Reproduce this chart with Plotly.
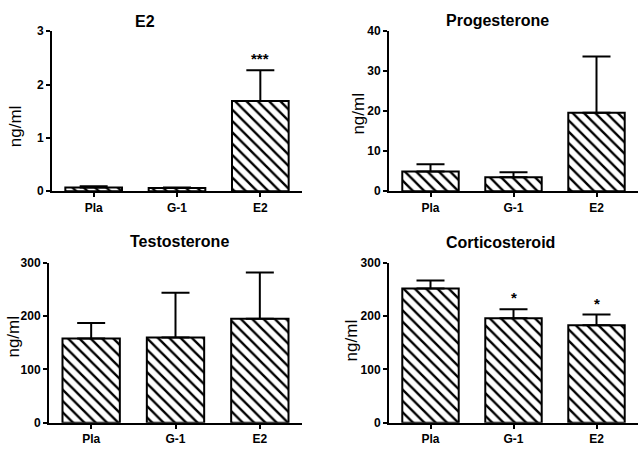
import plotly.graph_objects as go

categories = ["Pla", "G-1", "E2"]

e2_mean = [0.07, 0.06, 1.69]
e2_sem = [0.02, 0.01, 0.58]
e2_stars = ["", "", "***"]

prog_mean = [4.9, 3.5, 19.6]
prog_sem = [1.8, 1.2, 14.1]
prog_stars = ["", "", ""]

testo_mean = [158, 160, 195]
testo_sem = [29, 84, 87]
testo_stars = ["", "", ""]

cort_mean = [252, 196, 183]
cort_sem = [15, 17, 20]
cort_stars = ["", "*", "*"]

titles = ["E2", "Progesterone", "Testosterone", "Corticosteroid"]
y_ranges = [[0, 3], [0, 40], [0, 300], [0, 300]]
y_dticks = [1, 10, 100, 100]
y_label = "ng/ml"

W, H = 644, 455
FONT = "Liberation Sans, Arial, sans-serif"

# panel layout in pixels: (x_left, x_right, y_top, y_bottom)
panels_px = [
    (52, 302, 25, 190),
    (389, 638, 25, 190),
    (49, 302, 264, 429),
    (389, 638, 264, 429),
]
title_pos = [(145, 15), (497, 14), (180, 242), (500, 243)]
ylab_pos = [(15, 123), (359, 110), (14, 340), (351, 344)]

series = [
    (e2_mean, e2_sem, e2_stars),
    (prog_mean, prog_sem, prog_stars),
    (testo_mean, testo_sem, testo_stars),
    (cort_mean, cort_sem, cort_stars),
]

fig = go.Figure()
annotations = []
layout = {}

for i, ((mean, sem, stars), (xl, xr, yt, yb)) in enumerate(zip(series, panels_px)):
    n = "" if i == 0 else str(i + 1)
    xa, ya = "x" + n, "y" + n
    fig.add_trace(go.Bar(
        x=categories, y=mean, xaxis=xa, yaxis=ya, width=0.68,
        marker=dict(
            color="white",
            line=dict(color="black", width=2),
            pattern=dict(shape="\\", fgcolor="black", bgcolor="white",
                         size=8, solidity=0.3, fillmode="replace"),
        ),
        error_y=dict(type="data", array=sem, arrayminus=[0] * len(sem),
                     symmetric=False, color="black", thickness=2, width=14),
        showlegend=False,
        hoverinfo="skip",
    ))
    layout["xaxis" + n] = dict(
        domain=[xl / W, xr / W], anchor=ya, range=[-0.5, 2.5],
        showline=True, linecolor="black", linewidth=2,
        ticks="outside", ticklen=4, tickwidth=2, tickcolor="black",
        showgrid=False, zeroline=False,
        tickfont=dict(family=FONT, size=12, color="black", weight="bold"),
    )
    layout["yaxis" + n] = dict(
        domain=[1 - yb / H, 1 - yt / H], anchor=xa, range=y_ranges[i],
        dtick=y_dticks[i], tick0=0,
        showline=True, linecolor="black", linewidth=2,
        ticks="outside", ticklen=4, tickwidth=2, tickcolor="black",
        showgrid=False, zeroline=False,
        tickfont=dict(family=FONT, size=12, color="black", weight="bold"),
    )
    for c, m, s, st in zip(categories, mean, sem, stars):
        if st:
            annotations.append(dict(
                x=c, y=m + s, xref=xa, yref=ya, text=st, showarrow=False,
                yanchor="bottom", yshift=1,
                font=dict(family=FONT, size=15, color="black", weight="bold"),
            ))
    tx, ty = title_pos[i]
    annotations.append(dict(
        x=tx / W, y=1 - ty / H, xref="paper", yref="paper", text=titles[i],
        showarrow=False, xanchor="center", yanchor="middle",
        font=dict(family=FONT, size=16, color="black", weight="bold"),
    ))
    lx, ly = ylab_pos[i]
    annotations.append(dict(
        x=lx / W, y=1 - ly / H, xref="paper", yref="paper", text=y_label,
        showarrow=False, xanchor="center", yanchor="middle", textangle=-90,
        font=dict(family=FONT, size=17, color="black"),
    ))

fig.update_layout(
    width=W, height=H,
    margin=dict(l=0, r=0, t=0, b=0),
    paper_bgcolor="white", plot_bgcolor="white",
    annotations=annotations,
    bargap=0.3,
    **layout,
)

fig.write_html(
    "out.html",
    config={"displayModeBar": False},
    post_script="document.body.style.margin='0';document.body.style.overflow='hidden';",
)
